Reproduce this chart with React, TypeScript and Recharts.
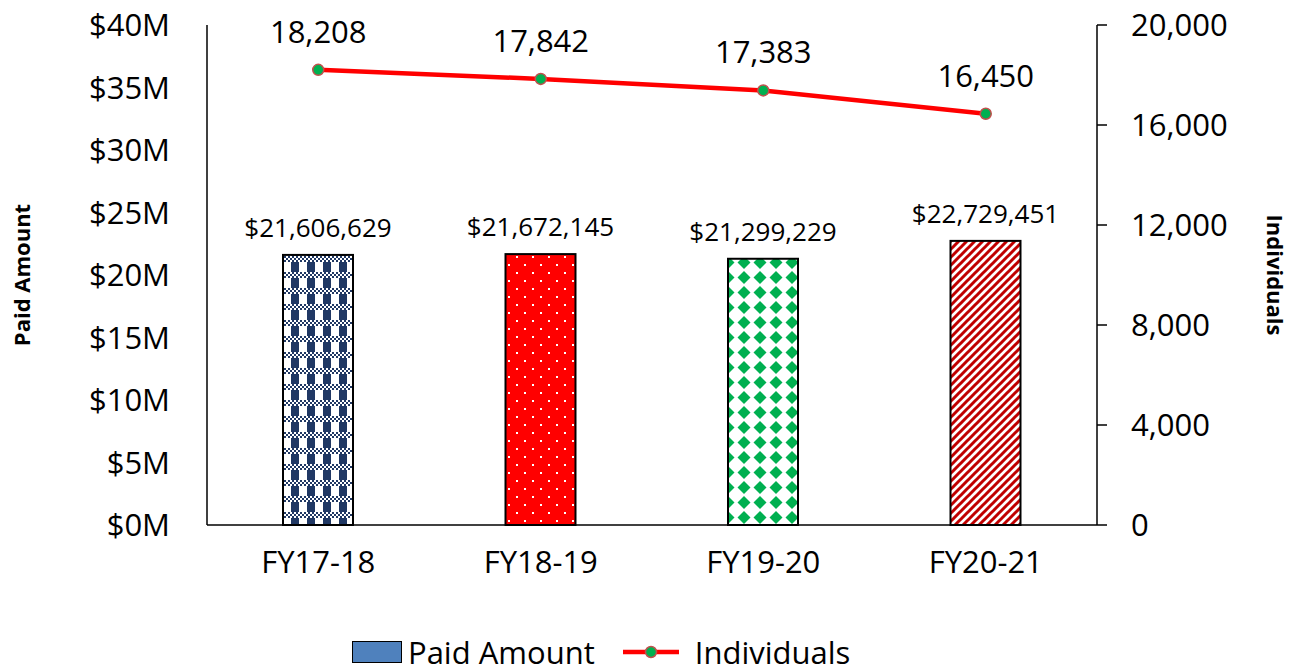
import React from 'react'
import { ComposedChart, Bar, Line, XAxis, YAxis, LabelList } from 'recharts'

const years = ['FY17-18', 'FY18-19', 'FY19-20', 'FY20-21']
const paidAmount = [21606629, 21672145, 21299229, 22729451]
const individuals = [18208, 17842, 17383, 16450]
const leftTicks = [0, 5000000, 10000000, 15000000, 20000000, 25000000, 30000000, 35000000, 40000000]
const rightTicks = [0, 4000, 8000, 12000, 16000, 20000]

const data = years.map((fy, i) => ({ fy, paid: paidAmount[i], individuals: individuals[i] }))

const FONT = '"Open Sans", "Noto Sans", sans-serif'
const NAVY = '#203864'
const GREEN = '#00B050'

const checker = () => {
  const cells = []
  for (let cx = 0; cx < 16; cx += 2) {
    for (let cy = 0; cy < 6; cy += 2) {
      if (((cx + cy) / 2) % 2 === 0) cells.push(<rect key={cx + '-' + cy} x={cx} y={cy} width={2} height={2} fill={NAVY} />)
    }
  }
  return cells
}

const patterns = [
  <pattern id="pat0" key="p0" patternUnits="userSpaceOnUse" width={16} height={16}>
    <rect width={16} height={16} fill="#fff" />
    {checker()}
    <rect x={3} y={6} width={8} height={10} fill={NAVY} />
  </pattern>,
  <pattern id="pat1" key="p1" patternUnits="userSpaceOnUse" width={16} height={16}>
    <rect width={16} height={16} fill="#FF0000" />
    <rect x={4} y={0} width={2} height={2} fill="#fff" />
    <rect x={12} y={8} width={2} height={2} fill="#fff" />
  </pattern>,
  <pattern id="pat2" key="p2" patternUnits="userSpaceOnUse" width={16} height={15}>
    <rect width={16} height={15} fill="#fff" />
    <path d="M8,1 L14.5,7.5 L8,14 L1.5,7.5 Z" fill={GREEN} />
  </pattern>,
  <pattern id="pat3" key="p3" patternUnits="userSpaceOnUse" width={8} height={8}>
    <rect width={8} height={8} fill="#fff" />
    <path d="M-2,2 L2,-2 M0,8 L8,0 M6,10 L10,6" stroke="#C00000" strokeWidth={3} />
  </pattern>,
]

const PatternBar = (props: any) => {
  const { x, y, width, height } = props
  const i = props.index ?? years.indexOf(props.fy ?? props.payload?.fy)
  return (
    <g>
      <defs>{patterns[i]}</defs>
      <rect x={x} y={y} width={width} height={height} fill={`url(#pat${i})`} stroke="#000" strokeWidth={2} />
    </g>
  )
}

const Dot = (props: any) => {
  const { cx, cy } = props
  return <circle cx={cx} cy={cy} r={5.5} fill={GREEN} stroke="#C0504D" strokeWidth={1.5} />
}

export default function App() {
  return (
    <div style={{ position: 'absolute', left: 0, top: 0, width: 1297, height: 672, background: '#fff', fontFamily: FONT }}>
      <ComposedChart width={1297} height={672} data={data} margin={{ top: 25, right: 0, bottom: 87, left: 0 }} barCategoryGap={0}>
        <XAxis
          dataKey="fy"
          height={60}
          tickLine={false}
          axisLine={{ stroke: '#000', strokeWidth: 1.5 }}
          tick={{ fontSize: 31, fill: '#000', fontFamily: FONT }}
          tickMargin={20}
        />
        <YAxis
          yAxisId="left"
          width={207}
          domain={[0, 40000000]}
          ticks={leftTicks}
          tickFormatter={(v: number) => `$${v / 1000000}M`}
          tickLine={false}
          tickSize={0}
          tickMargin={37}
          axisLine={{ stroke: '#000', strokeWidth: 1.5 }}
          tick={{ fontSize: 31, fill: '#000', fontFamily: FONT }}
          label={{ value: 'Paid Amount', angle: -90, position: 'insideLeft', offset: 22, style: { fontSize: 22, fontWeight: 700, fill: '#000', fontFamily: FONT, textAnchor: 'middle' } }}
        />
        <YAxis
          yAxisId="right"
          orientation="right"
          width={200}
          domain={[0, 20000]}
          ticks={rightTicks}
          tickFormatter={(v: number) => v.toLocaleString('en-US')}
          tickSize={10}
          tickMargin={24}
          tickLine={{ stroke: '#000', strokeWidth: 1.5 }}
          axisLine={{ stroke: '#000', strokeWidth: 1.5 }}
          tick={{ fontSize: 31, fill: '#000', fontFamily: FONT }}
          label={{ value: 'Individuals', angle: 90, position: 'insideRight', offset: 22, style: { fontSize: 22, fontWeight: 700, fill: '#000', fontFamily: FONT, textAnchor: 'middle' } }}
        />
        <Bar yAxisId="left" dataKey="paid" barSize={70} shape={PatternBar} isAnimationActive={false}>
          <LabelList
            dataKey="paid"
            position="top"
            offset={18}
            formatter={(v: any) => `$${Number(v).toLocaleString('en-US')}`}
            style={{ fontSize: 26, fill: '#000', fontFamily: FONT }}
          />
        </Bar>
        <Line
          yAxisId="right"
          dataKey="individuals"
          stroke="#FF0000"
          strokeWidth={4.5}
          dot={<Dot />}
          activeDot={false}
          isAnimationActive={false}
        >
          <LabelList
            dataKey="individuals"
            position="top"
            offset={27}
            formatter={(v: any) => Number(v).toLocaleString('en-US')}
            style={{ fontSize: 31, fill: '#000', fontFamily: FONT }}
          />
        </Line>
      </ComposedChart>
      <div style={{ position: 'absolute', top: 633, left: 352, height: 38, display: 'flex', alignItems: 'center', fontSize: 31, color: '#000' }}>
        <span style={{ display: 'inline-block', width: 48, height: 20, background: '#4F81BD', border: '1.5px solid #000', marginRight: 6 }} />
        <span>Paid Amount</span>
        <svg width={56} height={20} style={{ marginLeft: 28, marginRight: 16 }}>
          <line x1={0} y1={10} x2={56} y2={10} stroke="#FF0000" strokeWidth={4.5} />
          <circle cx={28} cy={10} r={5.5} fill={GREEN} stroke="#C0504D" strokeWidth={1.5} />
        </svg>
        <span>Individuals</span>
      </div>
    </div>
  )
}
